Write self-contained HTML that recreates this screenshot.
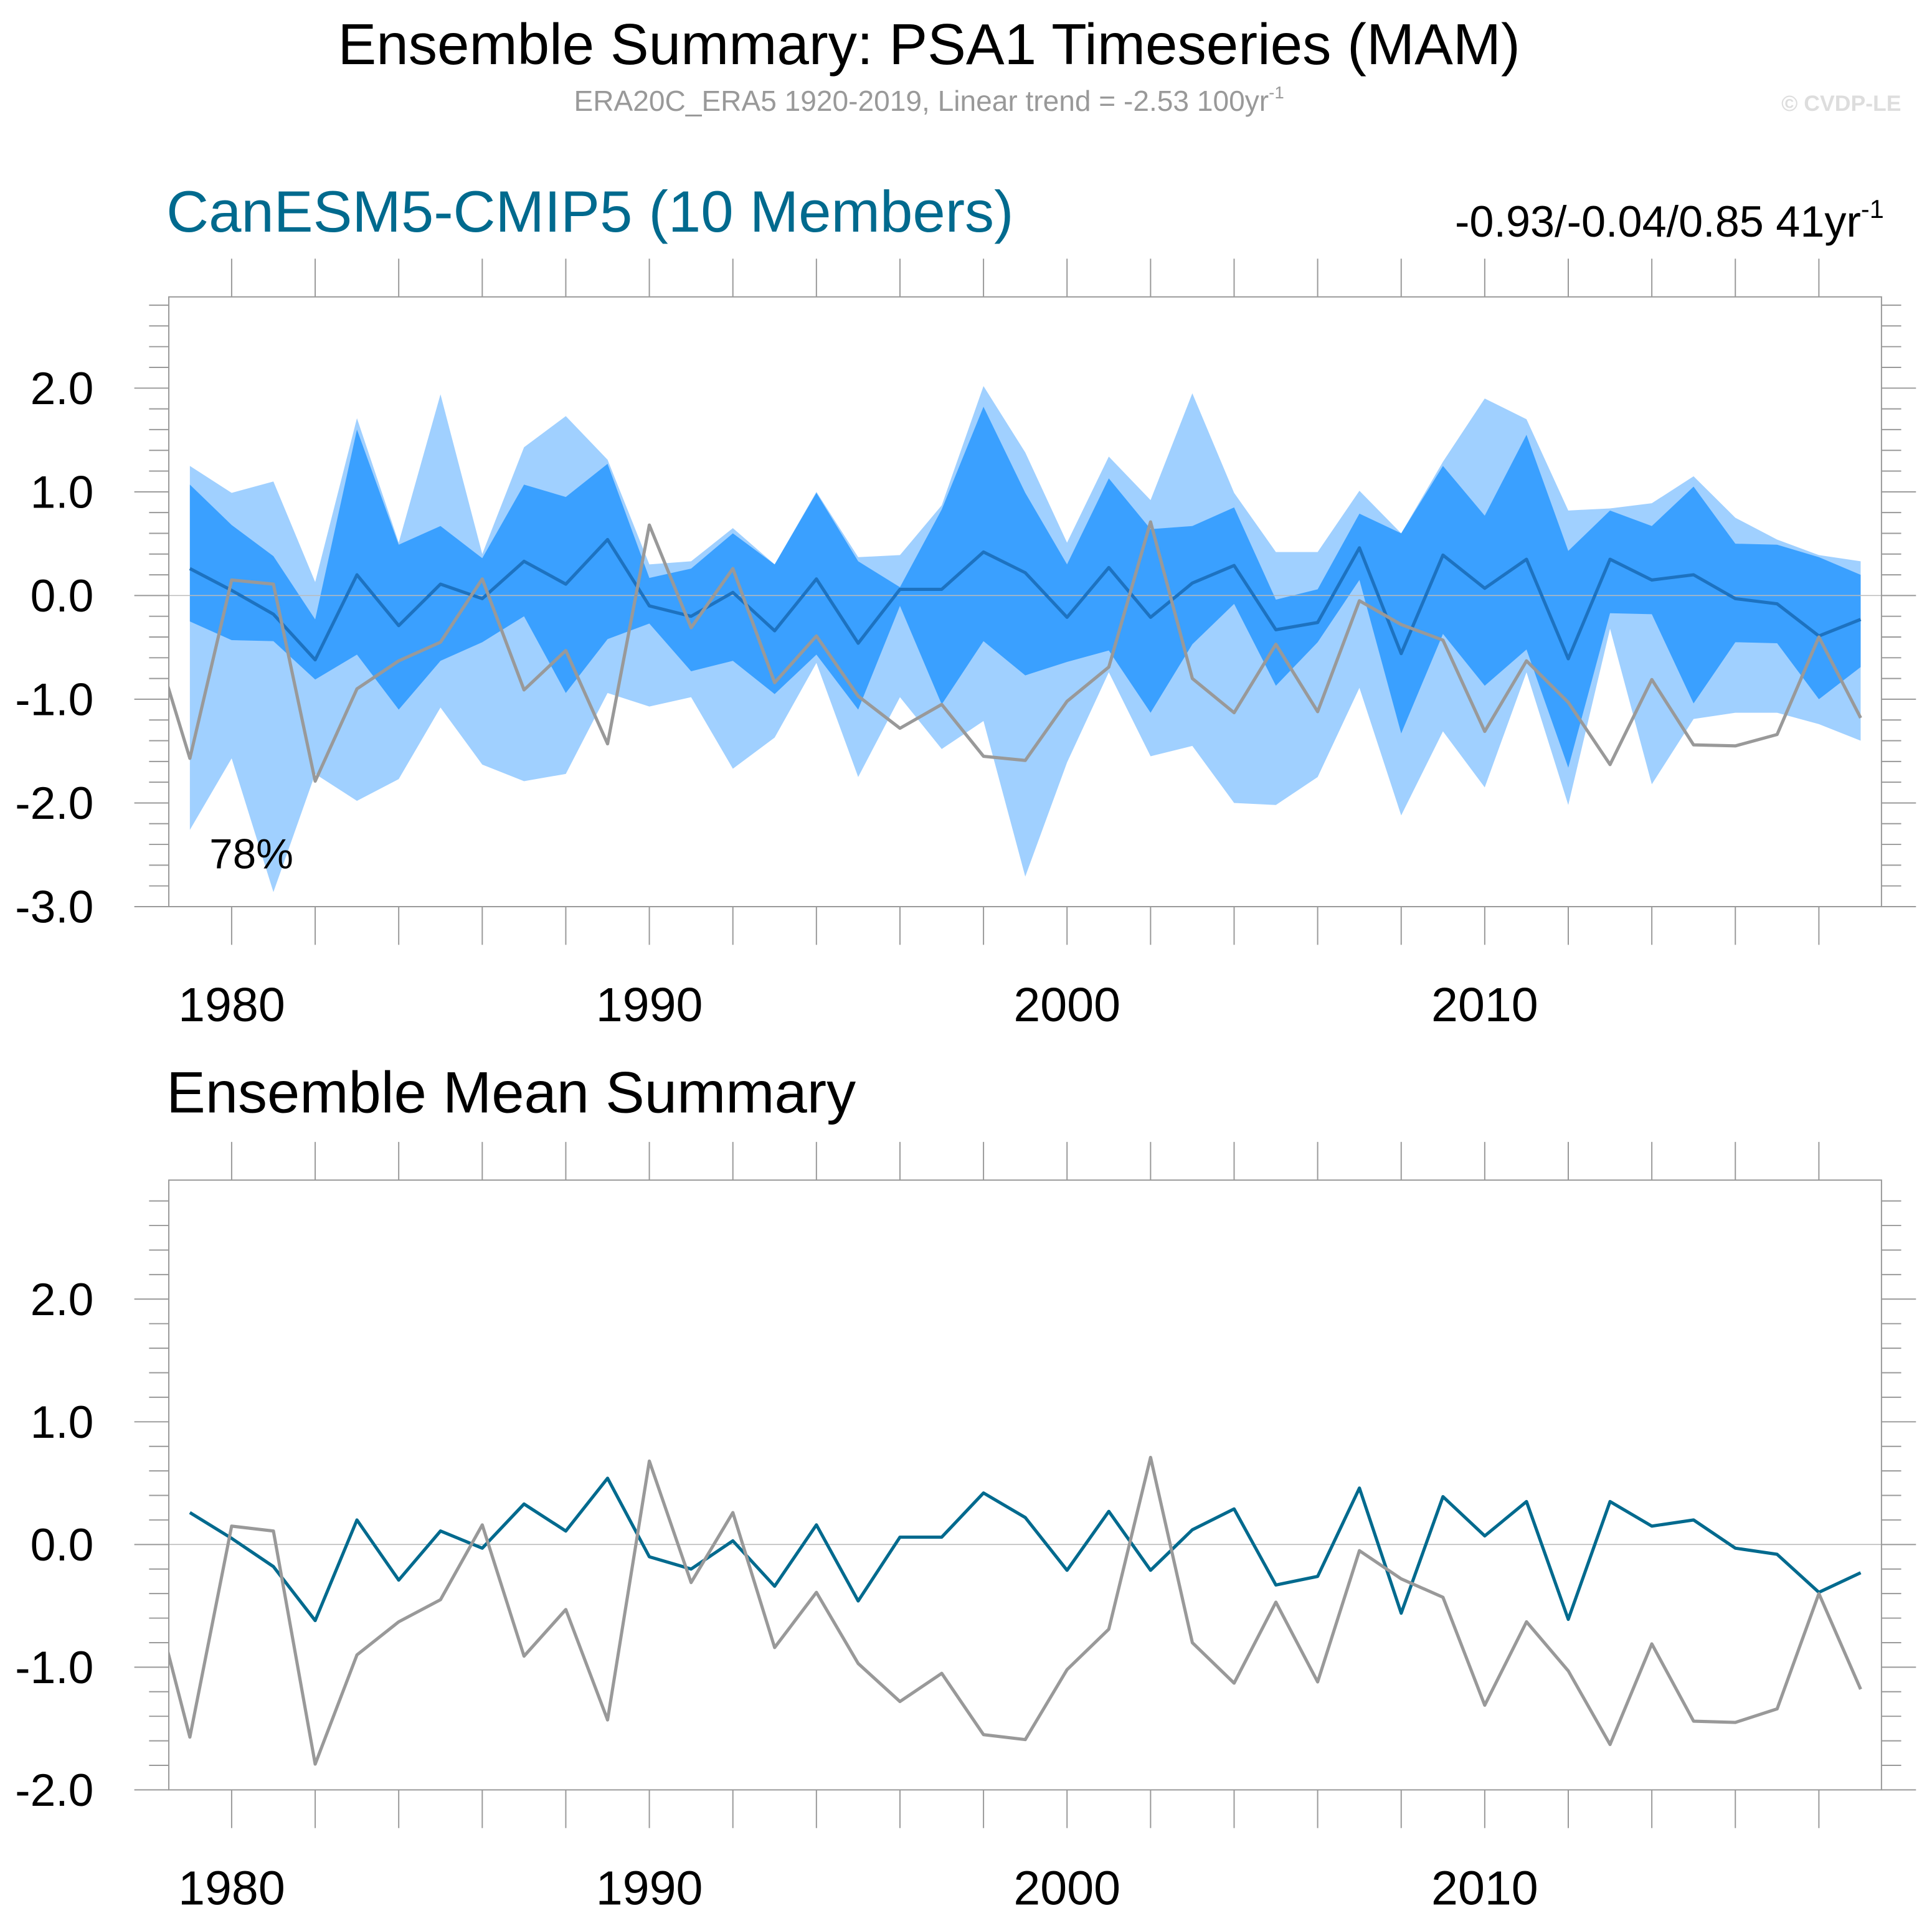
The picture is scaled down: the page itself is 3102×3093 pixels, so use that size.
<!DOCTYPE html>
<html><head><meta charset="utf-8">
<style>
html,body{margin:0;padding:0;background:#fff;}
svg{display:block;}
text{font-family:"Liberation Sans",Arial,sans-serif;}
</style></head>
<body>
<svg id="chart" width="3102" height="3093" viewBox="0 0 1568 1563.5" preserveAspectRatio="none" xmlns="http://www.w3.org/2000/svg">
<rect width="1568" height="1563.5" fill="#fff"/>
<text x="754" y="52" font-size="46.8" text-anchor="middle" fill="#000">Ensemble Summary: PSA1 Timeseries (MAM)</text>
<text x="754" y="90" font-size="23.3" text-anchor="middle" fill="#999">ERA20C_ERA5 1920-2019, Linear trend = -2.53 100yr<tspan dy="-10" font-size="14">-1</tspan></text>
<text x="1543" y="90" font-size="18" font-weight="bold" text-anchor="end" fill="#ddd">© CVDP-LE</text>
<text x="135" y="188" font-size="47.6" fill="#006a8e">CanESM5-CMIP5 (10 Members)</text>
<text x="1529" y="192" font-size="35.5" text-anchor="end" fill="#000">-0.93/-0.04/0.85 41yr<tspan dy="-15" font-size="21">-1</tspan></text>
<text x="135" y="903" font-size="47.5" fill="#000">Ensemble Mean Summary</text>
<g id="p1"></g>
<g id="p2"></g>
<text x="170" y="705" font-size="34" fill="#000">78%</text>
</svg>
<script>
const years = [1979,1980,1981,1982,1983,1984,1985,1986,1987,1988,1989,1990,1991,1992,1993,1994,1995,1996,1997,1998,1999,2000,2001,2002,2003,2004,2005,2006,2007,2008,2009,2010,2011,2012,2013,2014,2015,2016,2017,2018,2019];
const ensMean = [0.26,0.05,-0.18,-0.62,0.2,-0.29,0.11,-0.03,0.33,0.11,0.54,-0.1,-0.2,0.03,-0.34,0.16,-0.46,0.06,0.06,0.42,0.22,-0.21,0.27,-0.21,0.12,0.29,-0.33,-0.26,0.46,-0.56,0.39,0.07,0.35,-0.61,0.35,0.15,0.2,-0.03,-0.08,-0.39,-0.23];
const obsYears = [1978,1979,1980,1981,1982,1983,1984,1985,1986,1987,1988,1989,1990,1991,1992,1993,1994,1995,1996,1997,1998,1999,2000,2001,2002,2003,2004,2005,2006,2007,2008,2009,2010,2011,2012,2013,2014,2015,2016,2017,2018,2019];
const obs = [-0.25,-1.57,0.15,0.11,-1.79,-0.9,-0.63,-0.45,0.16,-0.91,-0.53,-1.43,0.68,-0.31,0.26,-0.84,-0.39,-0.97,-1.28,-1.05,-1.55,-1.59,-1.02,-0.69,0.71,-0.8,-1.13,-0.47,-1.12,-0.05,-0.28,-0.43,-1.31,-0.63,-1.03,-1.63,-0.81,-1.44,-1.45,-1.34,-0.4,-1.18];
const outerHi = [1.25,0.99,1.1,0.13,1.71,0.51,1.94,0.4,1.43,1.73,1.31,0.3,0.33,0.65,0.3,1.0,0.37,0.39,0.87,2.02,1.38,0.51,1.34,0.92,1.95,0.99,0.42,0.42,1.01,0.6,1.29,1.9,1.7,0.82,0.84,0.89,1.15,0.75,0.54,0.39,0.33];
const innerHi = [1.07,0.68,0.38,-0.23,1.6,0.49,0.67,0.36,1.07,0.95,1.27,0.17,0.26,0.6,0.3,0.99,0.33,0.08,0.83,1.82,0.99,0.3,1.13,0.64,0.67,0.85,-0.04,0.06,0.79,0.6,1.25,0.77,1.55,0.43,0.82,0.67,1.05,0.5,0.49,0.37,0.2];
const innerLo = [-0.25,-0.43,-0.44,-0.81,-0.57,-1.1,-0.63,-0.45,-0.2,-0.94,-0.42,-0.27,-0.73,-0.63,-0.95,-0.57,-1.1,-0.1,-1.05,-0.44,-0.77,-0.64,-0.53,-1.13,-0.47,-0.08,-0.87,-0.45,0.15,-1.33,-0.37,-0.87,-0.52,-1.66,-0.17,-0.18,-1.04,-0.45,-0.46,-1.0,-0.69];
const outerLo = [-2.26,-1.57,-2.86,-1.72,-1.98,-1.77,-1.08,-1.63,-1.79,-1.72,-0.94,-1.07,-0.98,-1.67,-1.37,-0.65,-1.75,-0.98,-1.48,-1.21,-2.71,-1.61,-0.74,-1.55,-1.45,-2.0,-2.02,-1.75,-0.89,-2.12,-1.31,-1.85,-0.74,-2.02,-0.32,-1.82,-1.19,-1.13,-1.13,-1.24,-1.4];
const xTickLabels = [1980,1990,2000,2010];
const p1YTicks = ["2.0","1.0","0.0","-1.0","-2.0","-3.0"];
const p2YTicks = ["2.0","1.0","0.0","-1.0","-2.0"];

const NS="http://www.w3.org/2000/svg";
function mk(parent,tag,attrs){const e=document.createElementNS(NS,tag);for(const k in attrs)e.setAttribute(k,attrs[k]);parent.appendChild(e);return e;}
const L=137,R=1527;
const xs=y=>188+(y-1980)*33.9;

function drawPanel(g,top,bot,ymin,ymax,labY,yticks,withBands,meanColor,prefix){
  const ys=v=>bot-(v-ymin)/(ymax-ymin)*(bot-top);
  const clip=mk(g,'clipPath',{id:prefix+'clip'});
  mk(clip,'rect',{x:L,y:top,width:R-L,height:bot-top});
  const body=mk(g,'g',{'clip-path':'url(#'+prefix+'clip)'});
  function band(hi,lo,fill,name){
    let d='';years.forEach((y,i)=>{d+=(i?'L':'M')+xs(y)+','+ys(hi[i]);});
    for(let i=years.length-1;i>=0;i--)d+='L'+xs(years[i])+','+ys(lo[i]);
    const p=mk(body,'path',{d:d+'Z',fill:fill});
    
    
  }
  if(withBands){band(outerHi,outerLo,'#a0d0ff',prefix+'outer-band');band(innerHi,innerLo,'#3aa0ff',prefix+'inner-band');}
  const zl=mk(body,'line',{x1:L,x2:R,y1:ys(0),y2:ys(0),stroke:'#bbb','stroke-width':0.8});
  
  
  function line(xv,yv,color,name,w){
    const pts=xv.map((y,i)=>xs(y)+','+ys(yv[i])).join(' ');
    const p=mk(body,'polyline',{points:pts,fill:'none',stroke:color,'stroke-width':w,'stroke-linejoin':'round'});
    
    
  }
  line(years,ensMean,meanColor,prefix+'ensemble-mean-line',2.6);
  line(obsYears,obs,'#999',prefix+'observed-line',2.6);
  const fr=mk(g,'rect',{x:L,y:top,width:R-L,height:bot-top,fill:'none',stroke:'#999','stroke-width':1});
  
  
  for(let y=1979;y<=2019;y++){
    if(y%2!==0)continue;
    mk(g,'line',{x1:xs(y),x2:xs(y),y1:top,y2:top-31,stroke:'#999','stroke-width':1});
    mk(g,'line',{x1:xs(y),x2:xs(y),y1:bot,y2:bot+31,stroke:'#999','stroke-width':1});
  }
  xTickLabels.forEach(y=>{
    const t=mk(g,'text',{x:xs(y),y:labY,'font-size':39,'text-anchor':'middle',fill:'#000'});
    t.textContent=y;
    
    
  });
  for(let v=Math.ceil(ymin*5)/5;v<=ymax+1e-6;v+=0.2){
    const major=Math.abs(v-Math.round(v))<1e-6;
    const len=major?28:16;
    mk(g,'line',{x1:L,x2:L-len,y1:ys(v),y2:ys(v),stroke:'#999','stroke-width':1});
    mk(g,'line',{x1:R,x2:R+len,y1:ys(v),y2:ys(v),stroke:'#999','stroke-width':1});
  }
  yticks.forEach(s=>{
    const t=mk(g,'text',{x:76,y:ys(parseFloat(s))+13,'font-size':37,'text-anchor':'end',fill:'#000'});
    t.textContent=s;
    
    
  });
}
drawPanel(document.getElementById('p1'),241,736,-3,2.88,829,p1YTicks,true,'#1d72c0','top-');
drawPanel(document.getElementById('p2'),958,1453,-2,2.97,1546,p2YTicks,false,'#006a8e','bottom-');
</script>
</body></html>
